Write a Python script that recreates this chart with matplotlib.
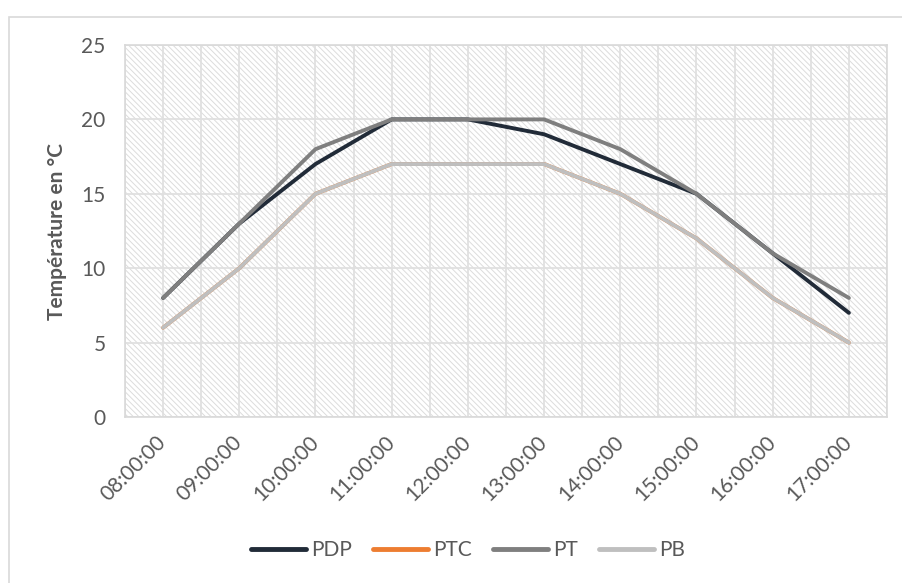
import numpy as np
import matplotlib.pyplot as plt
from matplotlib.patches import Rectangle

# Données relevées
heures = ['08:00:00', '09:00:00', '10:00:00', '11:00:00', '12:00:00',
          '13:00:00', '14:00:00', '15:00:00', '16:00:00', '17:00:00']
pdp = [8, 13, 17, 20, 20, 19, 17, 15, 11, 7]
ptc = [6, 10, 15, 17, 17, 17, 15, 12, 8, 5]
pt = [8, 13, 18, 20, 20, 20, 18, 15, 11, 8]
pb = [6, 10, 15, 17, 17, 17, 15, 12, 8, 5]

series = [('PDP', pdp, '#212b38'), ('PTC', ptc, '#ed7d31'),
          ('PT', pt, '#7f7f7f'), ('PB', pb, '#bfbfbf')]

plt.rcParams['font.family'] = ['Lato', 'DejaVu Sans']
plt.rcParams['hatch.color'] = '#dcdcdc'
plt.rcParams['hatch.linewidth'] = 0.7

fig = plt.figure(figsize=(9.03, 5.83), dpi=100)
ax = fig.add_axes([125 / 903, 1 - 417 / 583, 762 / 903, 372 / 583])

# cadre du graphique
fig.patches.append(Rectangle((9 / 903, -0.1), 1.2, (583 - 17) / 583 + 0.1,
                             transform=fig.transFigure, fill=False,
                             edgecolor='#d9d9d9', lw=1.2, zorder=0))

# fond hachuré de la zone de traçage
ax.add_patch(Rectangle((0, 0), 1, 1, transform=ax.transAxes, facecolor='white',
                       hatch='\\' * 6, edgecolor='#dcdcdc', lw=0, zorder=0))

x = np.arange(len(heures))
for nom, vals, couleur in series:
    ax.plot(x, vals, color=couleur, lw=2.8, label=nom,
            solid_joinstyle='round', solid_capstyle='round', zorder=3)

ax.set_xlim(-0.5, len(heures) - 0.5)
ax.set_ylim(0, 25)
ax.set_yticks(range(0, 26, 5))
ax.set_xticks(x)
ax.set_xticks(np.arange(-0.5, len(heures), 1.0), minor=True)
ax.set_xticklabels(heures, rotation=45, ha='right', va='center',
                   rotation_mode='anchor')
ax.tick_params(axis='both', which='both', length=0, labelsize=15,
               labelcolor='#595959')
ax.tick_params(axis='x', pad=16)
ax.tick_params(axis='y', pad=14)
ax.grid(True, which='both', color='#e0e0e0', lw=1.3, zorder=1)
ax.set_axisbelow(True)
for s in ax.spines.values():
    s.set_color('#d9d9d9')
    s.set_linewidth(1.2)

ax.set_ylabel('Température en °C', fontsize=15, fontweight='bold',
              color='#595959', labelpad=10)

leg = fig.legend(loc='center', bbox_to_anchor=(468 / 903, 1 - 550 / 583),
                 ncol=4, frameon=False, fontsize=15, handlelength=2.65,
                 columnspacing=1.0, handletextpad=0.25)
for t in leg.get_texts():
    t.set_color('#595959')
for h in leg.get_lines():
    h.set_linewidth(3.5)
    h.set_solid_capstyle('round')

fig.savefig('out.png', dpi=100)
